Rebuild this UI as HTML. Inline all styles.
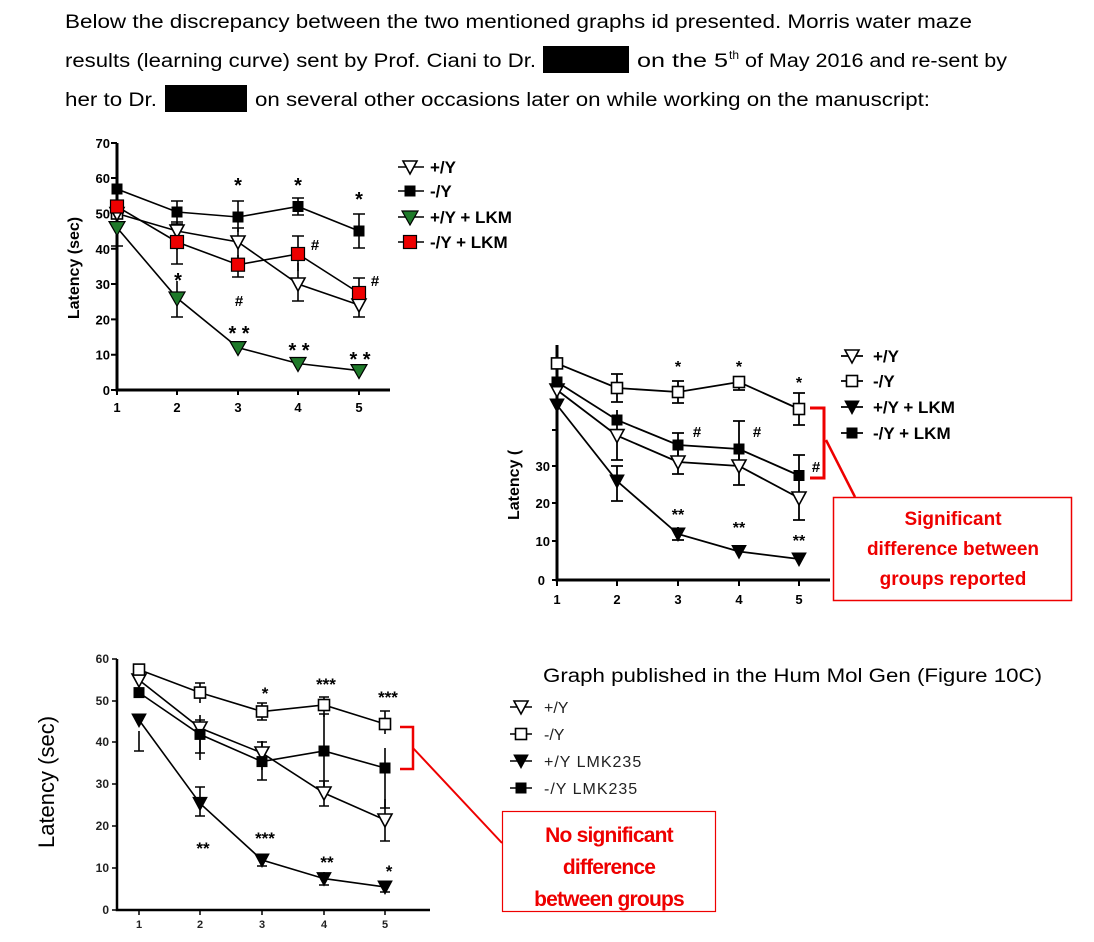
<!DOCTYPE html>
<html><head><meta charset="utf-8"><style>
html,body{margin:0;padding:0;background:#fff;}
svg{display:block;}
text{font-family:"Liberation Sans",Arial,sans-serif;}
</style></head><body>
<svg width="1094" height="942" viewBox="0 0 1094 942" xmlns="http://www.w3.org/2000/svg">
<defs>
<path id="to" d="M-7,-6 L7,-6 L0,7 Z" fill="#fff" stroke="#000" stroke-width="1.6"/>
<path id="tf" d="M-7,-6 L7,-6 L0,7 Z" fill="#000" stroke="#000" stroke-width="1"/>
<path id="tg" d="M-8,-6 L8,-6 L0,8 Z" fill="#1f7a2a" stroke="#000" stroke-width="1.2"/>
<rect id="so" x="-5.5" y="-5.5" width="11" height="11" fill="#fff" stroke="#000" stroke-width="1.6"/>
<rect id="sf" x="-5.5" y="-5.5" width="11" height="11" fill="#000"/>
<rect id="sr" x="-6.5" y="-6.5" width="13" height="13" fill="#e00" stroke="#000" stroke-width="1.2"/>
</defs>
<rect width="1094" height="942" fill="#fff"/>

<!-- header text -->
<g font-size="19" fill="#000">
<text x="65" y="28" textLength="907" lengthAdjust="spacingAndGlyphs">Below the discrepancy between the two mentioned graphs id presented.  Morris water maze</text>
<text x="65" y="67" textLength="471" lengthAdjust="spacingAndGlyphs">results (learning curve) sent by Prof. Ciani to Dr.</text>
<text x="637" y="67" textLength="91" lengthAdjust="spacingAndGlyphs">on the 5</text>
<text x="729" y="59" font-size="12">th</text>
<text x="745" y="67" textLength="262" lengthAdjust="spacingAndGlyphs">of May 2016 and re-sent by</text>
<text x="65" y="106" textLength="92" lengthAdjust="spacingAndGlyphs">her to Dr.</text>
<text x="255" y="106" textLength="675" lengthAdjust="spacingAndGlyphs">on several other occasions later on while working on the manuscript:</text>
</g>
<rect x="543" y="46" width="86" height="27" fill="#000"/>
<rect x="165" y="85" width="82" height="27" fill="#000"/>

<!-- ===== Chart 2 (middle) ===== -->
<g stroke="#000" fill="none">
<path d="M557,345 L557,580 L830,580" stroke-width="3"/>
<path d="M552,580h5M552,541h5M552,503h5M552,466h5M552,430h5M557,580v6M617,580v6M678,580v6M739,580v6M799,580v6" stroke-width="2"/>
<g stroke-width="1.8">
<polyline points="557,390 617,435.6 678,462 739,466 799,498"/>
<polyline points="557,363.4 617,388 678,392 739,382 799,409"/>
<polyline points="557,405 617,481 678,534 739,551.5 799,559"/>
<polyline points="557,382 617,420 678,445 739,449 799,475.5"/>
</g>
<g stroke-width="1.8">
<path d="M617,374v28M611,374h12M611,402h12M678,381v22M672,381h12M672,403h12M739,377v13M733,377h12M733,390h12M799,393v32M793,393h12M793,425h12"/>
<path d="M617,410v50M611,460h12M678,433v27M672,433h12M739,421v49M733,421h12M799,455v22M793,455h12"/>
<path d="M678,448v26M672,474h12M739,447v38M733,485h12M799,480v40M793,520h12"/>
<path d="M617,466v35M611,466h12M611,501h12M678,527v13M672,540h12"/>
</g>
</g>
<use href="#so" x="557" y="363.4"/><use href="#so" x="617" y="388"/><use href="#so" x="678" y="392"/><use href="#so" x="739" y="382"/><use href="#so" x="799" y="409"/>
<use href="#to" x="557" y="390"/><use href="#to" x="617" y="435.6"/><use href="#to" x="678" y="462"/><use href="#to" x="739" y="466"/><use href="#to" x="799" y="498"/>
<use href="#sf" x="557" y="382"/><use href="#sf" x="617" y="420"/><use href="#sf" x="678" y="445"/><use href="#sf" x="739" y="449"/><use href="#sf" x="799" y="475.5"/>
<use href="#tf" x="557" y="405"/><use href="#tf" x="617" y="481"/><use href="#tf" x="678" y="534"/><use href="#tf" x="739" y="551.5"/><use href="#tf" x="799" y="559"/>
<g font-size="13" font-weight="bold" fill="#000" text-anchor="middle">
<text x="557" y="604">1</text><text x="617" y="604">2</text><text x="678" y="604">3</text><text x="739" y="604">4</text><text x="799" y="604">5</text>
<text x="545" y="585" text-anchor="end">0</text><text x="550" y="546" text-anchor="end">10</text><text x="550" y="508" text-anchor="end">20</text><text x="550" y="471" text-anchor="end">30</text>
<text x="678" y="372" font-size="16">*</text><text x="739" y="372" font-size="16">*</text><text x="799" y="388" font-size="16">*</text>
<text x="697" y="437" font-size="15">#</text><text x="757" y="437" font-size="15">#</text><text x="816" y="472" font-size="15">#</text>
<text x="678" y="520" font-size="16">**</text><text x="739" y="533" font-size="16">**</text><text x="799" y="546" font-size="16">**</text>
</g>
<text transform="translate(519,520) rotate(-90)" font-size="16" font-weight="bold">Latency (</text>
<!-- legend 2 -->
<g stroke="#000" stroke-width="1.8"><path d="M841,356h22M841,381h22M841,407h22M841,433h22"/></g>
<use href="#to" x="852" y="356"/><use href="#so" x="852" y="381"/><use href="#tf" x="852" y="407"/><use href="#sf" x="852" y="433"/>
<g font-size="17" font-weight="bold">
<text x="873" y="362">+/Y</text><text x="873" y="387">-/Y</text><text x="873" y="413">+/Y + LKM</text><text x="873" y="439">-/Y + LKM</text>
</g>

<!-- ===== Chart 1 (top-left) ===== -->
<rect x="50" y="135" width="490" height="290" fill="#fff"/>
<g stroke="#000" fill="none">
<path d="M117,143 L117,390 L390,390" stroke-width="3"/>
<path d="M111,390h6M111,354.7h6M111,319.4h6M111,284h6M111,248.8h6M111,213.5h6M111,178h6M111,143h6M117,390v5M177,390v5M238,390v5M298,390v5M359,390v5" stroke-width="2"/>
<g stroke-width="1.6">
<polyline points="117,213.5 177,231 238,242 298,284 359,305"/>
<polyline points="117,189 177,212 238,217 298,206.5 359,231"/>
<polyline points="117,227.6 177,298 238,347.6 298,363.5 359,370.6"/>
<polyline points="117,206.5 177,242 238,264.7 298,254 359,293"/>
</g>
<g stroke-width="1.6">
<path d="M177,201v23M171,201h12M171,224h12M238,201v31M232,201h12M298,198v17M292,198h12M292,215h12M359,214v34M353,214h12M353,248h12"/>
<path d="M177,222v28M171,222h12M238,228v30M232,228h12M298,263v38M292,301h12M359,295v22M353,317h12"/>
<path d="M177,228v36M171,264h12M238,255v22M232,277h12M298,236v35M292,236h12M359,278v14M353,278h12"/>
<path d="M177,281v36M171,317h12M117,222v24M111,246h12"/>
</g>
</g>
<use href="#so" x="117" y="213.5"/><use href="#to" x="117" y="213.5"/><use href="#to" x="177" y="231"/><use href="#to" x="238" y="242"/><use href="#to" x="298" y="284"/><use href="#to" x="359" y="305"/>
<use href="#sf" x="117" y="189"/><use href="#sf" x="177" y="212"/><use href="#sf" x="238" y="217"/><use href="#sf" x="298" y="206.5"/><use href="#sf" x="359" y="231"/>
<use href="#sr" x="117" y="206.5"/><use href="#sr" x="177" y="242"/><use href="#sr" x="238" y="264.7"/><use href="#sr" x="298" y="254"/><use href="#sr" x="359" y="293"/>
<use href="#tg" x="117" y="227.6"/><use href="#tg" x="177" y="298"/><use href="#tg" x="238" y="347.6"/><use href="#tg" x="298" y="363.5"/><use href="#tg" x="359" y="370.6"/>
<g font-size="13" font-weight="bold" fill="#000" text-anchor="middle">
<text x="117" y="412">1</text><text x="177" y="412">2</text><text x="238" y="412">3</text><text x="298" y="412">4</text><text x="359" y="412">5</text>
<g text-anchor="end"><text x="110" y="395">0</text><text x="110" y="359.7">10</text><text x="110" y="324.4">20</text><text x="110" y="289">30</text><text x="110" y="253.8">40</text><text x="110" y="218.5">50</text><text x="110" y="183">60</text><text x="110" y="148">70</text></g>
<text x="238" y="192" font-size="20">*</text><text x="298" y="192" font-size="20">*</text><text x="359" y="206" font-size="20">*</text><text x="178" y="287" font-size="20">*</text>
<text x="315" y="250" font-size="15">#</text><text x="239" y="306" font-size="15">#</text><text x="375" y="286" font-size="15">#</text>
<text x="239" y="340" font-size="20">* *</text><text x="299" y="357" font-size="20">* *</text><text x="360" y="366" font-size="20">* *</text>
</g>
<text transform="translate(79,268) rotate(-90)" font-size="16" font-weight="bold" text-anchor="middle">Latency (sec)</text>
<g stroke="#000" stroke-width="1.6"><path d="M398,167h26M398,191h26M398,217h26M398,242h26"/></g>
<use href="#to" x="410" y="167"/><use href="#sf" x="410" y="191"/><use href="#tg" x="410" y="217"/><use href="#sr" x="410" y="242"/>
<g font-size="17" font-weight="bold">
<text x="430" y="173">+/Y</text><text x="430" y="197">-/Y</text><text x="430" y="223">+/Y + LKM</text><text x="430" y="248">-/Y + LKM</text>
</g>

<!-- red annotation 1 -->
<g stroke="#e00" stroke-width="3" fill="none">
<path d="M810,408 L824,408 L824,478 L810,478"/>
<path d="M826,440 L855,497" stroke-width="2.5"/>
</g>
<rect x="833.5" y="497.5" width="238" height="103" fill="#fff" stroke="#e00" stroke-width="1.5"/>
<g font-size="19" font-weight="bold" fill="#e00" text-anchor="middle">
<text x="953" y="525">Significant</text><text x="953" y="555">difference between</text><text x="953" y="585">groups reported</text>
</g>

<!-- ===== Chart 3 (bottom) ===== -->
<g stroke="#000" fill="none">
<path d="M117,659 L117,910 L430,910" stroke-width="2.5"/>
<path d="M112,910h5M112,868h5M112,826h5M112,784h5M112,742h5M112,701h5M112,659h5M139,910v5M200,910v5M262,910v5M324,910v5M385,910v5" stroke-width="1.5"/>
<g stroke-width="1.6">
<polyline points="139,680 200,728 262,753 324,793 385,820"/>
<polyline points="139,669.6 200,692.6 262,711.5 324,705 385,724"/>
<polyline points="139,720 200,803.4 262,860 324,878.6 385,887"/>
<polyline points="139,692.6 200,734.4 262,761.6 324,751 385,768"/>
</g>
<g stroke-width="1.6">
<path d="M139,731v20M134,751h10M200,787v29M195,787h10M195,816h10M262,756v-3M262,854v12M257,866h10M324,872v13M319,885h10M385,882v10M380,892h10"/>
<path d="M200,683v20M195,683h10M262,703v17M257,703h10M257,720h10M324,697v20M319,697h10M385,711v23M380,711h10"/>
<path d="M200,715v38M195,753h10M262,742v28M257,742h10M324,714v72M319,714h10M385,748v60M380,808h10"/>
<path d="M200,720v40M195,720h10M262,741v39M257,780h10M324,781v25M319,781h10M319,806h10M385,799v42M380,841h10"/>
</g>
</g>
<use href="#to" x="139" y="680"/><use href="#to" x="200" y="728"/><use href="#to" x="262" y="753"/><use href="#to" x="324" y="793"/><use href="#to" x="385" y="820"/>
<use href="#so" x="139" y="669.6"/><use href="#so" x="200" y="692.6"/><use href="#so" x="262" y="711.5"/><use href="#so" x="324" y="705"/><use href="#so" x="385" y="724"/>
<use href="#tf" x="139" y="720"/><use href="#tf" x="200" y="803.4"/><use href="#tf" x="262" y="860"/><use href="#tf" x="324" y="878.6"/><use href="#tf" x="385" y="887"/>
<use href="#sf" x="139" y="692.6"/><use href="#sf" x="200" y="734.4"/><use href="#sf" x="262" y="761.6"/><use href="#sf" x="324" y="751"/><use href="#sf" x="385" y="768"/>
<g font-size="11" font-weight="bold" fill="#222" text-anchor="middle">
<text x="139" y="928">1</text><text x="200" y="928">2</text><text x="262" y="928">3</text><text x="324" y="928">4</text><text x="385" y="928">5</text>
<g text-anchor="end" font-size="12"><text x="109" y="914">0</text><text x="109" y="872">10</text><text x="109" y="830">20</text><text x="109" y="788">30</text><text x="109" y="746">40</text><text x="109" y="705">50</text><text x="109" y="663">60</text></g>
<g font-size="17" fill="#000"><text x="265" y="699">*</text><text x="326" y="690">***</text><text x="388" y="703">***</text>
<text x="203" y="854">**</text><text x="265" y="844">***</text><text x="327" y="868">**</text><text x="389" y="877">*</text></g>
</g>
<text transform="translate(54,782) rotate(-90)" font-size="22" text-anchor="middle">Latency (sec)</text>
<text x="543" y="682" font-size="19" textLength="499" lengthAdjust="spacingAndGlyphs">Graph published in the Hum Mol Gen (Figure 10C)</text>
<g stroke="#000" stroke-width="1.6"><path d="M510,707h22M510,734h22M510,761h22M510,788h22"/></g>
<use href="#to" x="521" y="707"/><use href="#so" x="521" y="734"/><use href="#tf" x="521" y="761"/><use href="#sf" x="521" y="788"/>
<g font-size="16" fill="#222">
<text x="544" y="713">+/Y</text><text x="544" y="740">-/Y</text><text x="544" y="767" letter-spacing="1">+/Y LMK235</text><text x="544" y="794" letter-spacing="1">-/Y LMK235</text>
</g>
<g stroke="#e00" stroke-width="2.5" fill="none">
<path d="M400,727 L413,727 L413,769 L400,769"/>
<path d="M413,748 L502,843" stroke-width="2"/>
</g>
<rect x="502.5" y="811.5" width="213" height="100" fill="#fff" stroke="#e00" stroke-width="1.2"/>
<g font-size="21" font-weight="bold" fill="#e00" text-anchor="middle" letter-spacing="-0.8">
<text x="609" y="842">No significant</text><text x="609" y="874">difference</text><text x="609" y="906">between groups</text>
</g>
</svg>
</body></html>
